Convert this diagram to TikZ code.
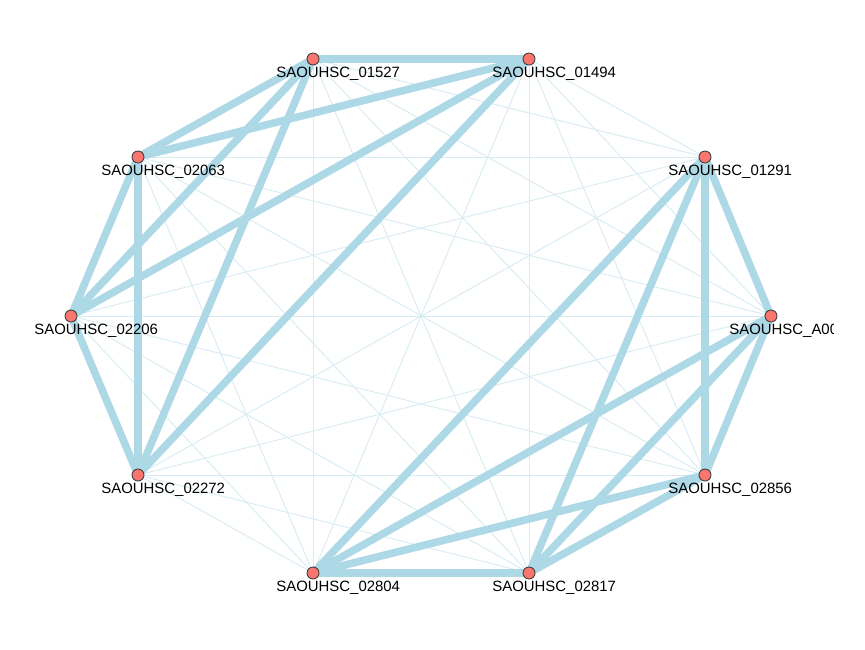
\documentclass[tikz,border=0pt]{standalone}
\usepackage{fontspec}
\setmainfont{Liberation Sans}
\usetikzlibrary{positioning,backgrounds}
\definecolor{edgeblue}{HTML}{ADD8E6}
\definecolor{genered}{HTML}{F8766D}
\tikzset{
  gene/.style={circle, draw=black!75, fill=genered, line width=0.5pt, minimum size=0.24cm, inner sep=0pt},
  lbl/.style={anchor=north west, inner sep=0pt, font=\fontsize{8.5}{10}\selectfont},
  strong/.style={draw=edgeblue, line width=4.3pt},
  weak/.style={draw=edgeblue!50, line width=0.5pt},
}

\begin{document}
\begin{tikzpicture}[x=0.02cm, y=-0.02cm]
  \useasboundingbox (0,0) rectangle (865,649);
  % genes
  \node[gene] (n01527) at (313, 59) {};
  \node[gene] (n01494) at (529, 59) {};
  \node[gene] (n02063) at (138, 157) {};
  \node[gene] (n01291) at (705, 157) {};
  \node[gene] (n02206) at (71, 316) {};
  \node[gene] (nA00)   at (771, 316) {};
  \node[gene] (n02272) at (138, 475) {};
  \node[gene] (n02856) at (705, 475) {};
  \node[gene] (n02804) at (313, 573) {};
  \node[gene] (n02817) at (529, 573) {};
  % edges
  \begin{scope}[on background layer]
    \foreach \a in {n01527,n01494,n02063,n02206,n02272}
      \foreach \b in {n01291,nA00,n02856,n02804,n02817}
        \draw[weak] (\a.center) -- (\b.center);
    \foreach \a/\b in {n01527/n01494, n01527/n02063, n01527/n02206, n01527/n02272,
                       n01494/n02063, n01494/n02206, n01494/n02272,
                       n02063/n02206, n02063/n02272, n02206/n02272}
      \draw[strong] (\a.center) -- (\b.center);
    \foreach \a/\b in {n01291/nA00, n01291/n02856, n01291/n02804, n01291/n02817,
                       nA00/n02856, nA00/n02804, nA00/n02817,
                       n02856/n02804, n02856/n02817, n02804/n02817}
      \draw[strong] (\a.center) -- (\b.center);
  \end{scope}
  % labels
  \node[lbl] (l01527) at (276, 67) {SAOUHSC\_01527};
  \node[lbl] (l01494) at (492, 67) {SAOUHSC\_01494};
  \node[lbl] (l02063) at (101, 165) {SAOUHSC\_02063};
  \node[lbl] (l01291) at (668, 165) {SAOUHSC\_01291};
  \node[lbl] (l02206) at (34, 324) {SAOUHSC\_02206};
  \begin{scope}
    \clip (0,0) rectangle (833,649);
    \node[lbl] (lA00) at (729, 324) {SAOUHSC\_A00};
  \end{scope}
  \node[lbl] (l02272) at (101, 483) {SAOUHSC\_02272};
  \node[lbl] (l02856) at (668, 483) {SAOUHSC\_02856};
  \node[lbl] (l02804) at (276, 581) {SAOUHSC\_02804};
  \node[lbl] (l02817) at (492, 581) {SAOUHSC\_02817};
\end{tikzpicture}
\end{document}
